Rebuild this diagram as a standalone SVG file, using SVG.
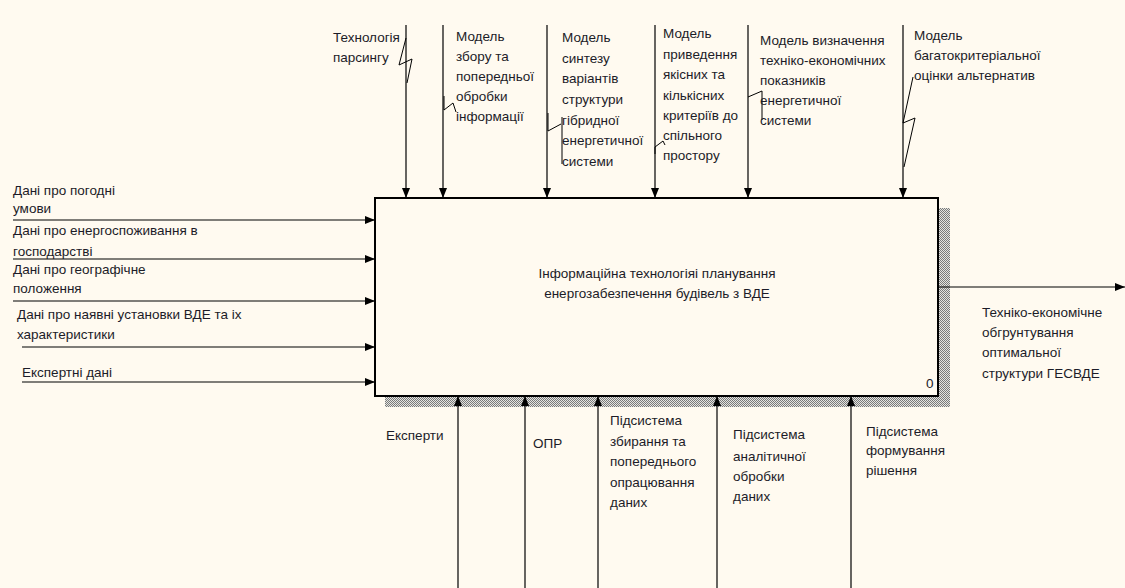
<svg xmlns="http://www.w3.org/2000/svg" width="1125" height="588" viewBox="0 0 1125 588">
<defs>
<pattern id="hatch" width="2" height="2" patternUnits="userSpaceOnUse">
<rect width="2" height="2" fill="#e4e4e0"/>
<rect width="1" height="1" fill="#7a7a7a"/>
<rect x="1" y="1" width="1" height="1" fill="#7a7a7a"/>
</pattern>
<marker id="ah" viewBox="0 0 10 8" refX="10" refY="4" markerWidth="10" markerHeight="8" markerUnits="userSpaceOnUse" orient="auto">
<path d="M0,0 L10,4 L0,8 Z" fill="#000"/>
</marker>
</defs>
<style>
text{font-family:"Liberation Sans",Arial,sans-serif;font-size:13.5px;fill:#1c1c28}
.c{fill:none;stroke:#000;stroke-width:1.2}
.a{fill:none;stroke:#000;stroke-width:1.2;marker-end:url(#ah)}
.sq{fill:none;stroke:#000;stroke-width:1}
</style>
<rect width="1125" height="588" fill="#fffaf0"/>

<g id="node-0">
<rect x="385" y="208" width="565" height="199" fill="url(#hatch)"/>
<rect x="375" y="198" width="563" height="198" fill="#fffaf0" stroke="#000" stroke-width="2"/>
<text x="657" y="278" text-anchor="middle">Інформаційна технологіяі планування</text>
<text x="657" y="298" text-anchor="middle">енергозабезпечення будівель з ВДЕ</text>
<text x="926" y="388">0</text>
</g>

<g id="connectors">
<path class="a" d="M406,25 V198"/>
<path class="a" d="M443,25 V198"/>
<path class="a" d="M547,25 V198"/>
<path class="a" d="M655,25 V198"/>
<path class="a" d="M748,25 V198"/>
<path class="a" d="M903,25 V198"/>
<path class="a" d="M13,220 H375"/>
<path class="a" d="M13,259 H375"/>
<path class="a" d="M13,301 H375"/>
<path class="a" d="M22,347 H375"/>
<path class="a" d="M22,382 H375"/>
<path class="a" d="M458,588 V396"/>
<path class="a" d="M525,588 V396"/>
<path class="a" d="M598,588 V396"/>
<path class="a" d="M717,588 V396"/>
<path class="a" d="M851,588 V396"/>
<path class="a" d="M938,287 H1125"/>
<path class="sq" d="M406,38 L399,65 L412,59 L407,83"/>
<path class="sq" d="M444,96 V110 L453,103 L456,112"/>
<path class="sq" d="M548,113 V131 L561,124 M562,117 V164"/>
<path class="sq" d="M655,154 V147 L663,141 L665,145"/>
<path class="sq" d="M748,97 L762,91 V120"/>
<path class="sq" d="M913,77 L903,123 L915,118 L904,167"/>
</g>

<g id="label-tech">
<text x="333" y="42">Технологія</text>
<text x="333" y="62">парсингу</text>
</g>
<g id="label-zbor">
<text x="456" y="41">Модель</text>
<text x="456" y="61">збору та</text>
<text x="456" y="81">попередньої</text>
<text x="456" y="101">обробки</text>
<text x="456" y="121">інформації</text>
</g>
<g id="label-syntez">
<text x="562" y="42">Модель</text>
<text x="562" y="62.5">синтезу</text>
<text x="562" y="83">варіантів</text>
<text x="562" y="104">структури</text>
<text x="562" y="124.5">гібридної</text>
<text x="562" y="145">енергетичної</text>
<text x="562" y="165.5">системи</text>
</g>
<g id="label-pryved">
<text x="663" y="38">Модель</text>
<text x="663" y="58.5">приведення</text>
<text x="663" y="79">якісних та</text>
<text x="663" y="99.5">кількісних</text>
<text x="663" y="120">критеріїв до</text>
<text x="663" y="140">спільного</text>
<text x="663" y="160">простору</text>
</g>
<g id="label-vyznach">
<text x="760" y="45">Модель визначення</text>
<text x="760" y="65">техніко-економічних</text>
<text x="760" y="85">показників</text>
<text x="760" y="105">енергетичної</text>
<text x="760" y="125">системи</text>
</g>
<g id="label-bagato">
<text x="914" y="40">Модель</text>
<text x="914" y="60">багатокритеріальної</text>
<text x="914" y="80">оцінки альтернатив</text>
</g>

<g id="input-pogoda">
<text x="13" y="195">Дані про погодні</text>
<text x="13" y="213">умови</text>
</g>
<g id="input-energo">
<text x="13" y="235">Дані про енергоспоживання в</text>
<text x="13" y="256">господарстві</text>
</g>
<g id="input-geo">
<text x="13" y="274">Дані про географічне</text>
<text x="13" y="293">положення</text>
</g>
<g id="input-vde">
<text x="17" y="319">Дані про наявні установки ВДЕ та іх</text>
<text x="17" y="339">характеристики</text>
</g>
<g id="input-expert">
<text x="22" y="377">Експертні дані</text>
</g>

<g id="mech-experty">
<text x="386" y="440">Експерти</text>
</g>
<g id="mech-opr">
<text x="533" y="448">ОПР</text>
</g>
<g id="mech-zbyr">
<text x="610" y="425">Підсистема</text>
<text x="610" y="446">збирання та</text>
<text x="610" y="466">попереднього</text>
<text x="610" y="487">опрацювання</text>
<text x="610" y="507">даних</text>
</g>
<g id="mech-analit">
<text x="733" y="439">Підсистема</text>
<text x="733" y="461">аналітичної</text>
<text x="733" y="481">обробки</text>
<text x="733" y="501">даних</text>
</g>
<g id="mech-form">
<text x="866" y="436">Підсистема</text>
<text x="866" y="455">формування</text>
<text x="866" y="475">рішення</text>
</g>

<g id="output-teo">
<text x="982" y="317">Техніко-економічне</text>
<text x="982" y="337">обгрунтування</text>
<text x="982" y="357">оптимальної</text>
<text x="982" y="378">структури ГЕСВДЕ</text>
</g>
</svg>
